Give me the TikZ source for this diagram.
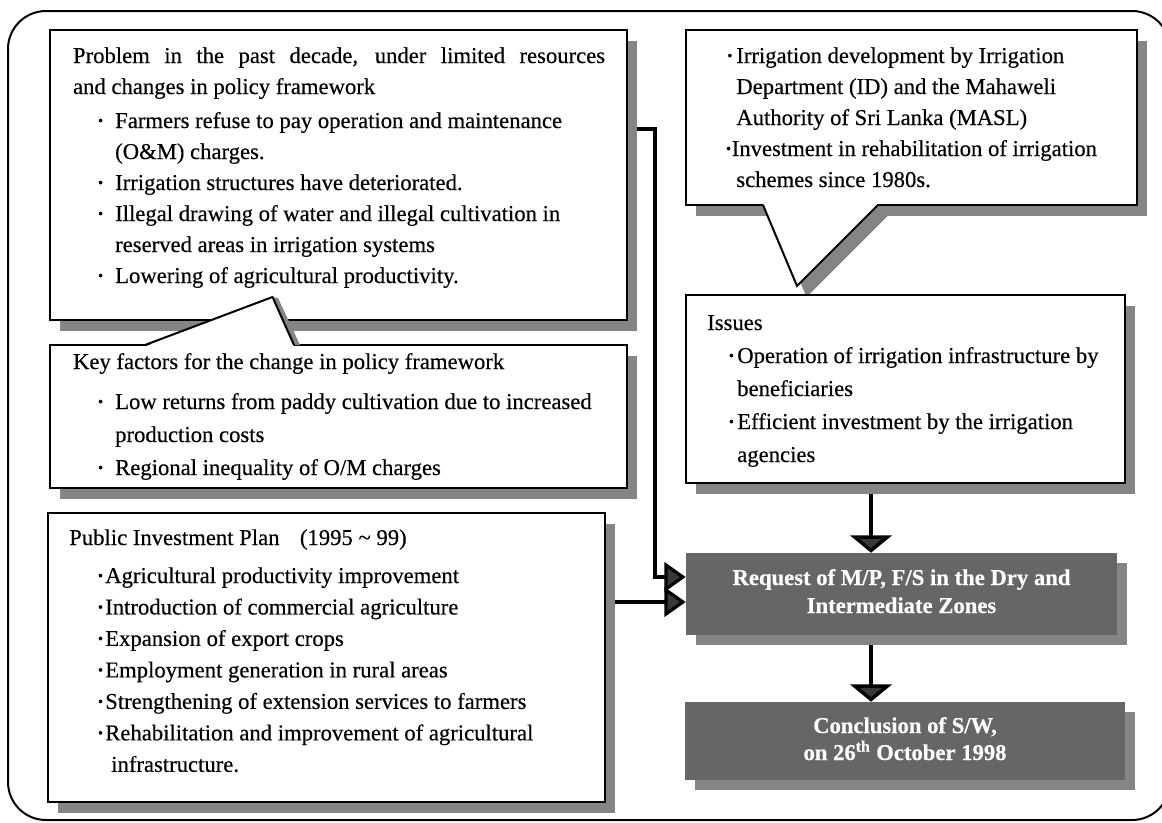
\documentclass[tikz,border=0pt]{standalone}
\usepackage{fontspec}
\setmainfont{Liberation Serif}[FakeBold=0.35]
\usetikzlibrary{arrows.meta,shadows,fit,calc}
\pgfdeclarelayer{bg}
\pgfsetlayers{bg,main}
\definecolor{shadowc}{gray}{0.52}
\definecolor{darkc}{gray}{0.40}
\definecolor{arrowc}{gray}{0.22}
% small bullet, item line and continuation line
\newcommand\bdot{\raisebox{0.25ex}{\fontsize{11}{11}\selectfont\textbullet}}
\newcommand\bl[3]{\hspace*{#1}\makebox[#2][l]{\bdot}#3}
\newcommand\cl[2]{\hspace*{#1}#2}
\begin{document}
\begin{tikzpicture}[x=0.75pt,y=-0.75pt,
  box/.style={draw, line width=1.5pt, fill=white, inner sep=0pt,
    drop shadow={shadow xshift=7.5pt, shadow yshift=-8.5pt, fill=shadowc, opacity=1}},
  darkbox/.style={draw=none, fill=darkc, inner sep=0pt,
    drop shadow={shadow xshift=7.5pt, shadow yshift=-7.5pt, fill=shadowc, opacity=1}},
  txt/.style={anchor=base west, inner sep=0pt},
  dtxt/.style={anchor=base, inner sep=0pt, text=white},
  edge/.style={line width=1.5pt, line join=miter},
  frame/.style={line width=1.5pt, rounded corners=28.5pt},
  conn/.style={line width=2.4pt, -{Triangle[width=22pt,length=16pt,fill=arrowc]}},
  vconn/.style={line width=2.6pt, -{Triangle[width=31pt,length=13pt,fill=arrowc]}}]
\useasboundingbox (0,0) rectangle (1162,822);
\begin{scope}
\clip (0,0) rectangle (1162,822);
\draw[frame] (8,11) rectangle (1170,820);
\end{scope}

% left column
\node[box, fit={(50,30) (627,320)}] (prob) {};
\node[box, fit={(50,345) (627,488)}] (key) {};
% callout tail of the key-factors box
\fill[shadowc] (272.5,297) -- (278,298) -- (300,345) -- (294,345) -- cycle;
\fill[white] (145,346.5) -- (272.5,297) -- (294,346.5) -- cycle;
\draw[edge] (145,345) -- (272.5,297) -- (294,345);
\node[box, fit={(48,513) (605,802)}] (pip) {};

% right column
\node[box, fit={(686,30) (1137,205)}] (dev) {};
% callout tail of the irrigation development box
\fill[shadowc] (772.5,216) -- (806.5,297) -- (887.5,216) -- cycle;
\fill[white] (763,203.5) -- (797,286) -- (878,203.5) -- cycle;
\draw[edge] (763,205) -- (797,286) -- (878,205);
\node[box, fit={(686,295) (1125,483)}] (iss) {};
\node[darkbox, fit={(686,553) (1117,635)}] (req) {};
\node[darkbox, fit={(685,702) (1125,780)}] (conc) {};

% texts
\node[txt] (probt) at (72.8,63) {\parbox[t]{480pt}{\raggedright\fontsize{17}{23.25}\selectfont
\makebox[399pt][s]{Problem in the past decade, under limited resources}\\
and changes in policy framework\\[2.25pt]
\bl{18.7pt}{12.9pt}{Farmers refuse to pay operation and maintenance}\\
\cl{31.6pt}{(O\&M) charges.}\\
\bl{18.7pt}{12.9pt}{Irrigation structures have deteriorated.}\\
\bl{18.7pt}{12.9pt}{Illegal drawing of water and illegal cultivation in}\\
\cl{31.6pt}{reserved areas in irrigation systems}\\
\bl{18.7pt}{12.9pt}{Lowering of agricultural productivity.}}};

\node[txt] (keyt) at (72.8,369) {\parbox[t]{480pt}{\raggedright\fontsize{17}{24.75}\selectfont
Key factors for the change in policy framework\\[5.25pt]
\bl{18.7pt}{12.9pt}{Low returns from paddy cultivation due to increased}\\
\cl{31.6pt}{production costs}\\
\bl{18.7pt}{12.9pt}{Regional inequality of O/M charges}}};

\node[txt] (pipt) at (69,545) {\parbox[t]{480pt}{\raggedright\fontsize{17}{23.6}\selectfont
Public Investment Plan\hspace{0.9em}(1995 \textasciitilde{} 99)\\[4.9pt]
\bl{21.5pt}{5.5pt}{Agricultural productivity improvement}\\
\bl{21.5pt}{5.5pt}{Introduction of commercial agriculture}\\
\bl{21.5pt}{5.5pt}{Expansion of export crops}\\
\bl{21.5pt}{5.5pt}{Employment generation in rural areas}\\
\bl{21.5pt}{5.5pt}{Strengthening of extension services to farmers}\\
\bl{21.5pt}{5.5pt}{Rehabilitation and improvement of agricultural}\\
\cl{31.5pt}{infrastructure.}}};

\node[txt] (devt) at (727,63) {\parbox[t]{320pt}{\raggedright\fontsize{17}{23.25}\selectfont
\bl{0pt}{6.8pt}{Irrigation development by Irrigation}\\
\cl{6.8pt}{Department (ID) and the Mahaweli}\\
\cl{6.8pt}{Authority of Sri Lanka (MASL)}\\
\bl{-1pt}{4.4pt}{Investment in rehabilitation of irrigation}\\
\cl{6.8pt}{schemes since 1980s.}}};

\node[txt] (isst) at (707,330) {\parbox[t]{320pt}{\raggedright\fontsize{17}{24.75}\selectfont
Issues\\
\bl{16.2pt}{6.3pt}{Operation of irrigation infrastructure by}\\
\cl{22.5pt}{beneficiaries}\\
\bl{16.2pt}{6.3pt}{Efficient investment by the irrigation}\\
\cl{22.5pt}{agencies}}};

\node[dtxt] (reqt) at (901.5,585) {\parbox[t]{320pt}{\centering\bfseries\fontsize{17}{21}\selectfont
Request of M/P, F/S in the Dry and\\ Intermediate Zones}};
\node[dtxt] (conct) at (905,733) {\parbox[t]{320pt}{\centering\bfseries\fontsize{17}{20.25}\selectfont
Conclusion of S/W,\\ on 26\textsuperscript{th} October 1998}};

% connectors
\coordinate (rq1) at ($(req.west)+(0,-17)$);
\coordinate (rq2) at ($(req.west)+(0,8)$);
\coordinate (vx) at (871,600);
\begin{pgfonlayer}{bg}
\draw[conn] ($(prob.north east)+(0,100)$) -- ++(27,0) |- (rq1);
\draw[conn] (pip.east |- rq2) -- (rq2);
\draw[vconn] (iss.south -| vx) -- (req.north -| vx);
\draw[vconn] (req.south -| vx) -- (conc.north -| vx);
\end{pgfonlayer}
\end{tikzpicture}
\end{document}
